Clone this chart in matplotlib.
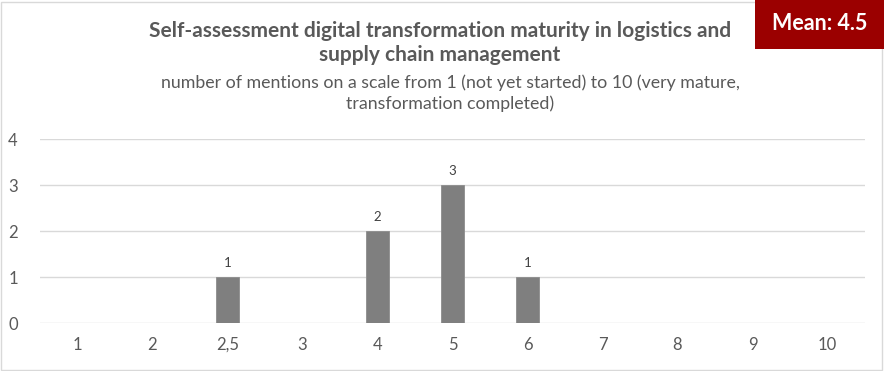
import matplotlib
matplotlib.use("Agg")
import matplotlib.pyplot as plt
from matplotlib.patches import Rectangle

categories = ["1", "2", "2,5", "3", "4", "5", "6", "7", "8", "9", "10"]
mentions = [0, 0, 1, 0, 2, 3, 1, 0, 0, 0, 0]
y_ticks = [0, 1, 2, 3, 4]
title = "Self-assessment digital transformation maturity in logistics and\nsupply chain management"
subtitle = "number of mentions on a scale from 1 (not yet started) to 10 (very mature,\ntransformation completed)"
mean_label = "Mean: 4.5"

plt.rcParams['font.family'] = ['Lato', 'DejaVu Sans']

W, H = 884, 371
fig = plt.figure(figsize=(W / 100, H / 100), dpi=100)
fig.patch.set_facecolor('white')

# outer border
fig.add_artist(Rectangle((1 / W, 1 / H), (W - 3) / W, (H - 3) / H, transform=fig.transFigure,
                         fill=False, edgecolor='#d9d9d9', linewidth=1))

left, right = 40 / W, 865 / W
bottom, top = (H - 323) / H, (H - 139) / H
ax = fig.add_axes([left, bottom, right - left, top - bottom])

x = list(range(len(categories)))
bars = ax.bar(x, mentions, width=0.31, color='#7f7f7f', edgecolor='#8c8c8c', linewidth=0.6, zorder=3)
for xi, v in zip(x, mentions):
    if v > 0:
        ax.text(xi, v + 0.17, str(v), ha='center', va='bottom', fontsize=9.5, color='#404040')

ax.set_xlim(-0.5, len(categories) - 0.5)
ax.set_ylim(0, 4)
ax.set_yticks(y_ticks)
ax.set_xticks(x)
ax.set_xticklabels(categories)
ax.yaxis.grid(True, color='#d9d9d9', linewidth=1, zorder=0)
ax.set_axisbelow(True)
for s in ax.spines.values():
    s.set_visible(False)
ax.tick_params(axis='both', length=0, labelsize=12, labelcolor='#595959')
ax.tick_params(axis='x', pad=10)
ax.tick_params(axis='y', pad=16)

fig.text(440 / W, 1 - 43 / H, title, ha='center', va='center', fontsize=15,
         fontweight='bold', color='#595959', linespacing=1.3)
fig.text(450 / W, 1 - 93 / H, subtitle, ha='center', va='center', fontsize=12.8,
         color='#595959', linespacing=1.35)

# mean box
fig.add_artist(Rectangle((755 / W, 1 - 49 / H), (W - 755) / W, 49 / H, transform=fig.transFigure,
                         facecolor='#9b0000', edgecolor='none'))
fig.text(820 / W, 1 - 23 / H, mean_label, ha='center', va='center', fontsize=15.5,
         fontweight='bold', color='white')

fig.savefig('out.png', dpi=100)
